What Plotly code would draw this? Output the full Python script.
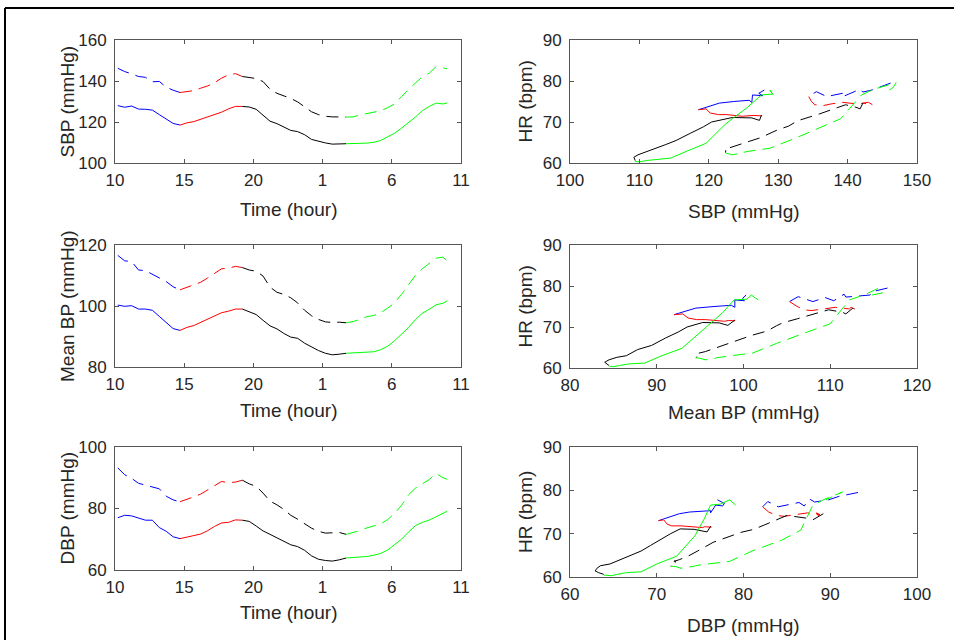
import plotly.graph_objects as go

W, H = 954, 640

# ---------------- data ----------------
time_h = [10.2, 10.7, 11.2, 11.7, 12.2, 12.7, 13.2, 13.7, 14.2, 14.7,
          15.2, 15.7, 16.2, 16.7, 17.2, 17.7, 18.2, 18.7, 19.2, 19.7,
          20.2, 20.7, 21.2, 21.7, 22.2, 22.7, 23.2, 23.7, 24.2, 24.7,
          25.2, 25.7, 26.2, 26.7, 27.2, 27.7, 28.2, 28.7, 29.2, 29.7,
          30.2, 30.7, 31.2, 31.7, 32.2, 32.7, 33.2, 33.7, 34.0]
time_tickvals = [10, 15, 20, 25, 30, 35]
time_ticktext = ["10", "15", "20", "1", "6", "11"]

sbp_a = [128.0, 127.2, 127.8, 126.3, 126.2, 125.8, 123.6, 121.5, 119.3, 118.5,
         119.6, 120.2, 121.4, 122.6, 123.8, 124.8, 126.4, 127.6, 127.6, 127.3,
         126.2, 123.4, 120.4, 119.2, 117.4, 115.9, 115.3, 113.8, 111.5, 110.6,
         109.8, 109.2, 109.3, 109.4, 109.5, 109.5, 109.7, 110.1, 111.0, 112.8,
         114.5, 117.0, 119.6, 122.4, 125.5, 127.6, 129.2, 128.8, 129.3]
sbp_b = [146.2, 144.6, 143.5, 142.2, 141.8, 139.6, 139.8, 137.0, 135.5, 134.4,
         134.8, 135.3, 136.5, 137.6, 139.2, 141.4, 143.0, 143.6, 142.2, 141.8,
         141.2, 139.7, 136.0, 134.0, 132.8, 131.5, 129.8, 127.5, 125.0, 123.6,
         122.8, 122.5, 122.5, 122.4, 122.5, 123.4, 124.2, 124.8, 125.5, 127.0,
         128.8, 132.4, 135.8, 139.0, 142.0, 143.8, 147.0, 146.5, 146.0]
map_a = [100.3, 99.9, 100.1, 99.0, 99.0, 98.6, 96.6, 94.5, 92.6, 92.0,
         93.0, 93.6, 94.6, 95.6, 96.6, 97.8, 98.3, 99.0, 99.0, 98.2,
         97.2, 95.3, 93.5, 92.5, 91.0, 89.8, 89.4, 87.8, 86.5, 85.4,
         84.5, 84.0, 84.2, 84.5, 84.6, 84.7, 84.8, 85.0, 85.7, 86.8,
         88.6, 90.6, 92.9, 95.5, 97.6, 98.9, 100.4, 100.9, 101.7]
map_b = [116.6, 114.8, 114.6, 111.8, 111.6, 110.4, 109.4, 108.0, 106.3, 105.3,
         106.2, 107.0, 107.8, 109.2, 110.6, 112.2, 112.4, 113.0, 112.6, 111.8,
         111.4, 109.8, 106.2, 104.5, 103.8, 102.7, 101.0, 98.6, 96.8, 95.6,
         94.8, 94.6, 94.7, 94.5, 94.9, 95.6, 96.5, 96.9, 97.8, 99.3,
         101.0, 103.8, 107.0, 110.0, 112.2, 114.1, 115.7, 116.0, 114.8]
dbp_a = [77.0, 77.8, 77.6, 76.8, 76.2, 76.2, 73.8, 72.6, 70.8, 70.2,
         70.8, 71.2, 71.7, 72.8, 74.2, 75.3, 75.5, 76.3, 76.2, 75.8,
         74.3, 72.7, 71.6, 70.5, 69.3, 68.2, 67.6, 66.4, 64.6, 63.5,
         63.1, 62.9, 63.3, 63.9, 64.0, 64.1, 64.4, 64.8, 65.4, 66.5,
         68.2, 70.0, 72.3, 74.4, 75.5, 76.2, 77.3, 78.4, 79.1]
dbp_b = [93.2, 91.0, 89.8, 88.2, 87.6, 87.0, 86.4, 84.0, 82.8, 82.2,
         82.9, 83.8, 84.7, 86.0, 87.4, 88.8, 88.4, 88.6, 89.2, 88.0,
         87.2, 85.0, 82.4, 81.2, 79.7, 77.8, 76.5, 74.9, 73.6, 72.6,
         72.0, 72.1, 72.2, 71.6, 72.2, 72.8, 73.7, 74.3, 75.0, 76.4,
         78.4, 81.0, 84.4, 86.6, 88.0, 89.4, 91.4, 90.0, 89.5]
hr_a = [77.8, 77.0, 76.4, 76.6, 74.8, 75.3, 75.0, 74.6, 73.4, 73.0,
        73.2, 72.2, 71.8, 71.8, 71.6, 71.4, 71.6, 71.5, 71.7, 70.4,
        71.0, 71.1, 70.0, 68.8, 67.3, 66.0, 65.5, 64.5, 63.0, 62.6,
        62.0, 61.4, 61.0, 60.6, 60.3, 60.4, 60.3, 60.3, 60.6, 61.0,
        61.2, 63.0, 64.8, 69.5, 73.5, 76.6, 76.8, 77.8, 76.6]
hr_b = [79.5, 78.6, 77.8, 77.3, 78.0, 76.4, 77.2, 76.2, 77.4, 76.2,
        75.0, 74.2, 74.0, 74.4, 74.8, 74.4, 74.8, 74.2, 74.6, 73.2,
        73.6, 74.2, 72.0, 71.0, 70.3, 69.0, 68.0, 66.2, 64.8, 64.0,
        63.6, 63.8, 62.8, 62.5, 62.4, 62.0, 62.2, 62.5, 62.8, 63.2,
        63.6, 66.0, 68.5, 70.8, 76.6, 78.0, 79.6, 78.3, 77.8]

segments = [("#0000ff", 0, 10), ("#ff0000", 9, 19), ("#000000", 18, 34), ("#00ff00", 33, 49)]

rows = [
    ("SBP (mmHg)", sbp_a, sbp_b, [100, 160], [100, 120, 140, 160], [100, 150]),
    ("Mean BP (mmHg)", map_a, map_b, [80, 120], [80, 100, 120], [80, 120]),
    ("DBP (mmHg)", dbp_a, dbp_b, [60, 100], [60, 80, 100], [60, 100]),
]

# ---------------- layout geometry (window pixels) ----------------
left_x = (115, 461)
right_x = (570, 917)
row_y_left = [(40, 163), (245, 367), (447, 570)]
row_y_right = [(40, 163), (245, 368), (447, 577)]
xtitle_left = [209, 410, 612]
xtitle_right = [211, 412, 625]

def px(x):
    return x / W

def py(y):
    return 1 - y / H

fig = go.Figure()
DASH = "12px,7px"

for r, (lab, bpa, bpb, yr, ytv, xr) in enumerate(rows):
    xl = "x" if r == 0 else f"x{2*r+1}"
    yl = "y" if r == 0 else f"y{2*r+1}"
    xr_ = f"x{2*r+2}"
    yr_ = f"y{2*r+2}"
    for col, i0, i1 in segments:
        fig.add_trace(go.Scatter(x=time_h[i0:i1], y=bpa[i0:i1], mode="lines",
                                 line=dict(color=col, width=1), xaxis=xl, yaxis=yl,
                                 showlegend=False, hoverinfo="skip"))
        fig.add_trace(go.Scatter(x=time_h[i0:i1], y=bpb[i0:i1], mode="lines",
                                 line=dict(color=col, width=1, dash=DASH), xaxis=xl, yaxis=yl,
                                 showlegend=False, hoverinfo="skip"))
        fig.add_trace(go.Scatter(x=bpa[i0:i1], y=hr_a[i0:i1], mode="lines",
                                 line=dict(color=col, width=1), xaxis=xr_, yaxis=yr_,
                                 showlegend=False, hoverinfo="skip"))
        fig.add_trace(go.Scatter(x=bpb[i0:i1], y=hr_b[i0:i1], mode="lines",
                                 line=dict(color=col, width=1, dash=DASH), xaxis=xr_, yaxis=yr_,
                                 showlegend=False, hoverinfo="skip"))

axis_common = dict(showline=True, linecolor="#555555", linewidth=1, mirror="ticks",
                   ticks="inside", ticklen=4, tickcolor="#555555", showgrid=False,
                   zeroline=False, automargin=False,
                   tickfont=dict(family="Liberation Sans, Arial", size=17, color="#262626"),
                   fixedrange=True)

layout = dict(width=W, height=H, autosize=False,
              margin=dict(l=0, r=0, t=0, b=0, pad=0, autoexpand=False),
              paper_bgcolor="white", plot_bgcolor="white", showlegend=False)

annotations = []
lab_font = dict(family="Liberation Sans, Arial", size=19, color="#262626")
for r, (lab, bpa, bpb, yr, ytv, xr) in enumerate(rows):
    nl = "" if r == 0 else str(2 * r + 1)
    nr = str(2 * r + 2)
    ylt, ylb = row_y_left[r]
    yrt, yrb = row_y_right[r]
    layout["xaxis" + nl] = dict(axis_common, domain=[px(left_x[0]), px(left_x[1])], range=[10, 35],
                                tickvals=time_tickvals, ticktext=time_ticktext,
                                anchor="y" + nl, ticklabelstandoff=2)
    layout["yaxis" + nl] = dict(axis_common, domain=[py(ylb), py(ylt)], range=yr,
                                tickvals=ytv, anchor="x" + nl, ticklabelstandoff=4)
    layout["xaxis" + nr] = dict(axis_common, domain=[px(right_x[0]), px(right_x[1])], range=xr,
                                dtick=10, tick0=0, anchor="y" + nr, ticklabelstandoff=2)
    layout["yaxis" + nr] = dict(axis_common, domain=[py(yrb), py(yrt)], range=[60, 90], dtick=10,
                                tick0=0, anchor="x" + nr, ticklabelstandoff=4)
    annotations.append(dict(text="Time (hour)", x=px((left_x[0] + left_x[1]) / 2),
                            y=py(xtitle_left[r]), xref="paper", yref="paper",
                            showarrow=False, font=lab_font, xanchor="center", yanchor="middle"))
    annotations.append(dict(text=lab, x=px((right_x[0] + right_x[1]) / 2),
                            y=py(xtitle_right[r]), xref="paper", yref="paper",
                            showarrow=False, font=lab_font, xanchor="center", yanchor="middle"))
    annotations.append(dict(text=lab, x=px(67), y=py((ylt + ylb) / 2), xref="paper",
                            yref="paper", showarrow=False, font=lab_font, textangle=-90,
                            xanchor="center", yanchor="middle"))
    annotations.append(dict(text="HR (bpm)", x=px(525), y=py((yrt + yrb) / 2),
                            xref="paper", yref="paper", showarrow=False, font=lab_font,
                            textangle=-90, xanchor="center", yanchor="middle"))

layout["annotations"] = annotations
layout["shapes"] = [
    dict(type="line", xref="paper", yref="paper", x0=px(5), x1=1, y0=py(8), y1=py(8),
         line=dict(color="black", width=2)),
    dict(type="line", xref="paper", yref="paper", x0=px(5), x1=px(5), y0=py(8), y1=0,
         line=dict(color="black", width=2)),
]
fig.update_layout(**layout)
fig.write_html(
    "out.html",
    config={"displayModeBar": False},
    post_script="document.body.style.margin='0';document.body.style.overflow='hidden';",
)
